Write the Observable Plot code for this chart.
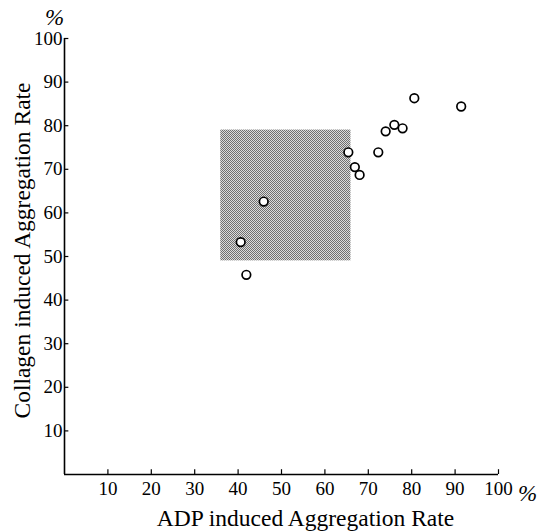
<!DOCTYPE html>
<html>
<head>
<meta charset="utf-8">
<script src="https://cdn.jsdelivr.net/npm/d3@7"></script>
<script src="https://cdn.jsdelivr.net/npm/@observablehq/plot@0.6"></script>
<style>
  html, body { margin: 0; padding: 0; background: #fff; }
  svg text { font-family: "Liberation Serif", serif !important; }
</style>
</head>
<body>
<div id="chart"></div>
<script>
// ADP induced aggregation rate (%) vs collagen induced aggregation rate (%)
const adp      = [65.4, 66.9, 68.0, 45.9, 40.6, 41.9, 80.6, 91.4, 76.0, 77.9, 74.0, 72.3];
const collagen = [73.9, 70.5, 68.7, 62.6, 53.3, 45.8, 86.3, 84.4, 80.2, 79.4, 78.7, 73.9];
const xTicks = [10, 20, 30, 40, 50, 60, 70, 80, 90, 100];
const yTicks = [10, 20, 30, 40, 50, 60, 70, 80, 90, 100];
// shaded (normal) region
const regionX = [36, 66];
const regionY = [49, 79];
const xLabel = "ADP induced Aggregation Rate";
const yLabel = "Collagen induced Aggregation Rate";

const points = adp.map((x, i) => ({x, y: collagen[i]}));
const region = [{x1: regionX[0], x2: regionX[1], y1: regionY[0], y2: regionY[1]}];
const FF = "Liberation Serif";

const chart = Plot.plot({
  width: 551,
  height: 531,
  marginLeft: 64,
  marginRight: 53,
  marginTop: 38,
  marginBottom: 57,
  style: {fontFamily: FF, color: "#000", background: "#fff"},
  x: {domain: [0, 100]},
  y: {domain: [0, 100]},
  marks: [
    Plot.rect(region, {x1: "x1", x2: "x2", y1: "y1", y2: "y2", fill: "url(#halftone)"}),
    Plot.ruleY([0], {stroke: "#000", strokeWidth: 1.6}),
    Plot.ruleX([0], {stroke: "#000", strokeWidth: 1.6}),
    Plot.ruleX(xTicks, {x: d => d, y1: 0, y2: 1.1, stroke: "#000", strokeWidth: 1.2}),
    Plot.ruleY(yTicks, {y: d => d, x1: 0, x2: 1.0, stroke: "#000", strokeWidth: 1.2}),
    Plot.axisX({ticks: xTicks, tickSize: 0, tickPadding: 7, fontSize: 19, fontFamily: FF, fill: "#000", label: null, tickFormat: d => d}),
    Plot.axisY({ticks: yTicks, tickSize: 0, tickPadding: 2, fontSize: 19, fontFamily: FF, fill: "#000", label: null, tickFormat: d => d}),
    Plot.dot(points, {x: "x", y: "y", r: 4.3, stroke: "#000", strokeWidth: 1.7, fill: "#fff"}),
    Plot.text([xLabel], {frameAnchor: "bottom", textAnchor: "middle", lineAnchor: "middle", dx: 24, dy: 44, fontSize: 23.5, fontFamily: FF, fill: "#000"}),
    Plot.text([yLabel], {frameAnchor: "left", textAnchor: "middle", lineAnchor: "middle", dx: -42, dy: -6, rotate: -90, fontSize: 23.5, fontFamily: FF, fill: "#000"}),
    Plot.text(["%"], {frameAnchor: "top-left", textAnchor: "middle", lineAnchor: "middle", dx: -10, dy: -21, fontSize: 23, fontStyle: "italic", fontFamily: FF, fill: "#000"}),
    Plot.text(["%"], {frameAnchor: "bottom-right", textAnchor: "middle", lineAnchor: "middle", dx: 29, dy: 19, fontSize: 23, fontStyle: "italic", fontFamily: FF, fill: "#000"})
  ]
});

// halftone pattern for the shaded region
const ns = "http://www.w3.org/2000/svg";
const defs = document.createElementNS(ns, "defs");
const pat = document.createElementNS(ns, "pattern");
pat.setAttribute("id", "halftone");
pat.setAttribute("patternUnits", "userSpaceOnUse");
pat.setAttribute("width", "2");
pat.setAttribute("height", "2");
const bg = document.createElementNS(ns, "rect");
bg.setAttribute("width", "2"); bg.setAttribute("height", "2"); bg.setAttribute("fill", "#dcdcdc");
pat.appendChild(bg);
for (const [px, py] of [[0, 0], [1, 1]]) {
  const r = document.createElementNS(ns, "rect");
  r.setAttribute("x", px); r.setAttribute("y", py);
  r.setAttribute("width", "1"); r.setAttribute("height", "1");
  r.setAttribute("fill", "#707070");
  pat.appendChild(r);
}
defs.appendChild(pat);
chart.insertBefore(defs, chart.firstChild);

document.getElementById("chart").appendChild(chart);
</script>
</body>
</html>
